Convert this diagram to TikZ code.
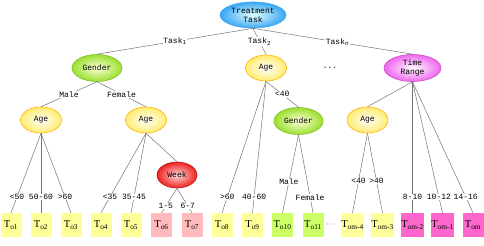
\documentclass[tikz,border=0pt]{standalone}
\usepackage{fontspec}
\setmainfont{Liberation Mono}
\newfontfamily\leaffont{Liberation Serif}
\usetikzlibrary{shapes.geometric}

\definecolor{rootblue}{HTML}{3AA6F2}
\definecolor{gendergreen}{HTML}{99E02E}
\definecolor{ageyellow}{HTML}{FFEC70}
\definecolor{timepink}{HTML}{EE66EE}
\definecolor{weekred}{HTML}{EE2020}
\definecolor{leafyellow}{HTML}{FFFF99}
\definecolor{leafpink}{HTML}{FFBBBB}
\definecolor{leafgreen}{HTML}{CCFF66}
\definecolor{leafmagenta}{HTML}{FF66CC}

\begin{document}
\begin{tikzpicture}[x=1pt, y=-1pt,
    every node/.style={font=\fontsize{8}{9}\selectfont},
    attr/.style={ellipse, draw, line width=0.6pt, inner sep=0pt, align=center, shading=radial},
    leaf/.style={rectangle, minimum width=21pt, minimum height=24pt, inner sep=0pt,
        font=\leaffont\fontsize{10.5}{11}\selectfont},
    branch/.style={draw=black!55, line width=0.5pt},
    elabel/.style={fill=white, inner sep=0.6pt}]
    \useasboundingbox (0,0) rectangle (484,246);

    \node[attr, minimum width=66pt, minimum height=26pt, draw=rootblue,
        inner color=cyan!12, outer color=rootblue]
        (task) at (253,15) {Treatment\\Task};

    \node[attr, minimum width=50pt, minimum height=27pt, draw=gendergreen!85!black,
        inner color=yellow!15, outer color=gendergreen]
        (gender) at (97,68) {Gender};

    \node[attr, minimum width=41pt, minimum height=26pt, draw=orange!60!yellow,
        inner color=white, outer color=ageyellow]
        (agetwo) at (266,68) {Age};

    \node (dotsup) at (330,68) {...};

    \node[attr, minimum width=57pt, minimum height=27pt, draw=timepink!85!black,
        inner color=white, outer color=timepink]
        (timerange) at (412.5,68) {Time\\Range};

    \node[attr, minimum width=41pt, minimum height=26pt, draw=orange!60!yellow,
        inner color=white, outer color=ageyellow]
        (agemale) at (41,120) {Age};

    \node[attr, minimum width=41pt, minimum height=26pt, draw=orange!60!yellow,
        inner color=white, outer color=ageyellow]
        (agefemale) at (146,120) {Age};

    \node[attr, minimum width=49pt, minimum height=27pt, draw=gendergreen!85!black,
        inner color=yellow!15, outer color=gendergreen]
        (gendertwo) at (298.5,121) {Gender};

    \node[attr, minimum width=41pt, minimum height=26pt, draw=orange!60!yellow,
        inner color=white, outer color=ageyellow]
        (agetime) at (367.5,120) {Age};

    \node[attr, minimum width=40pt, minimum height=26pt, draw=weekred!80!black,
        inner color=red!15, outer color=weekred]
        (week) at (177,175) {Week};

    % leaves
    \node[leaf, fill=leafyellow] (o1) at (11,225) {T\textsubscript{o1}};
    \node[leaf, fill=leafyellow] (o2) at (41,225) {T\textsubscript{o2}};
    \node[leaf, fill=leafyellow] (o3) at (71,225) {T\textsubscript{o3}};
    \node[leaf, fill=leafyellow] (o4) at (101,225) {T\textsubscript{o4}};
    \node[leaf, fill=leafyellow] (o5) at (131,225) {T\textsubscript{o5}};
    \node[leaf, fill=leafpink] (o6) at (161.5,225) {T\textsubscript{o6}};
    \node[leaf, fill=leafpink] (o7) at (192,225) {T\textsubscript{o7}};
    \node[leaf, fill=leafyellow] (o8) at (222,225) {T\textsubscript{o8}};
    \node[leaf, fill=leafyellow] (o9) at (252.5,225) {T\textsubscript{o9}};
    \node[leaf, fill=leafgreen] (o10) at (282.5,225) {T\textsubscript{o10}};
    \node[leaf, fill=leafgreen] (o11) at (313,225) {T\textsubscript{o11}};
    \node (dotsdown) at (331,225) {$\cdots$};
    \node[leaf, fill=leafyellow] (om4) at (352.5,225) {T\textsubscript{om-4}};
    \node[leaf, fill=leafyellow] (om3) at (382.5,225) {T\textsubscript{om-3}};
    \node[leaf, fill=leafmagenta] (om2) at (412.5,225) {T\textsubscript{om-2}};
    \node[leaf, fill=leafmagenta] (om1) at (442.5,225) {T\textsubscript{om-1}};
    \node[leaf, fill=leafmagenta] (om) at (473,225) {T\textsubscript{om}};

    % branches
    \draw[branch] (task.south) -- node[elabel] {Task\textsubscript{1}} (gender.north);
    \draw[branch] (task.south) -- node[elabel] {Task\textsubscript{2}} (agetwo.north);
    \draw[branch] (task.south) -- node[elabel, pos=0.53] {Task\textsubscript{n}} (timerange.north);

    \draw[branch] (gender.south) -- node[elabel] {Male} (agemale.north);
    \draw[branch] (gender.south) -- node[elabel] {Female} (agefemale.north);

    \draw[branch] (agemale.south) -- node[elabel, pos=0.8] {<50} (o1.north);
    \draw[branch] (agemale.south) -- node[elabel, pos=0.8] {50-60} (o2.north);
    \draw[branch] (agemale.south) -- node[elabel, pos=0.8] {>60} (o3.north);

    \draw[branch] (agefemale.south) -- node[elabel, pos=0.8] {<35} (o4.north);
    \draw[branch] (agefemale.south) -- node[elabel, pos=0.8] {35-45} (o5.north);
    \draw[branch] (agefemale.south) -- (week.north);

    \draw[branch] (week.south) -- node[elabel, pos=0.72] {1-5} (o6.north);
    \draw[branch] (week.south) -- node[elabel, pos=0.72] {6-7} (o7.north);

    \draw[branch] (agetwo.south) -- node[elabel, pos=0.88] {>60} (o8.north);
    \draw[branch] (agetwo.south) -- node[elabel, pos=0.88] {40-60} (o9.north);
    \draw[branch] (agetwo.south) -- node[elabel] {<40} (gendertwo.north);

    \draw[branch] (gendertwo.south) -- node[elabel, pos=0.6] {Male} (o10.north);
    \draw[branch] (gendertwo.south) -- node[elabel, pos=0.8] {Female} (o11.north);

    \draw[branch] (timerange.south) -- (agetime.north);
    \draw[branch] (agetime.south) -- node[elabel, pos=0.6] {<40} (om4.north);
    \draw[branch] (agetime.south) -- node[elabel, pos=0.6] {>40} (om3.north);

    \draw[branch] (timerange.south) -- node[elabel, pos=0.88] {8-10} (om2.north);
    \draw[branch] (timerange.south) -- node[elabel, pos=0.88] {10-12} (om1.north);
    \draw[branch] (timerange.south) -- node[elabel, pos=0.88] {14-16} (om.north);
\end{tikzpicture}
\end{document}
